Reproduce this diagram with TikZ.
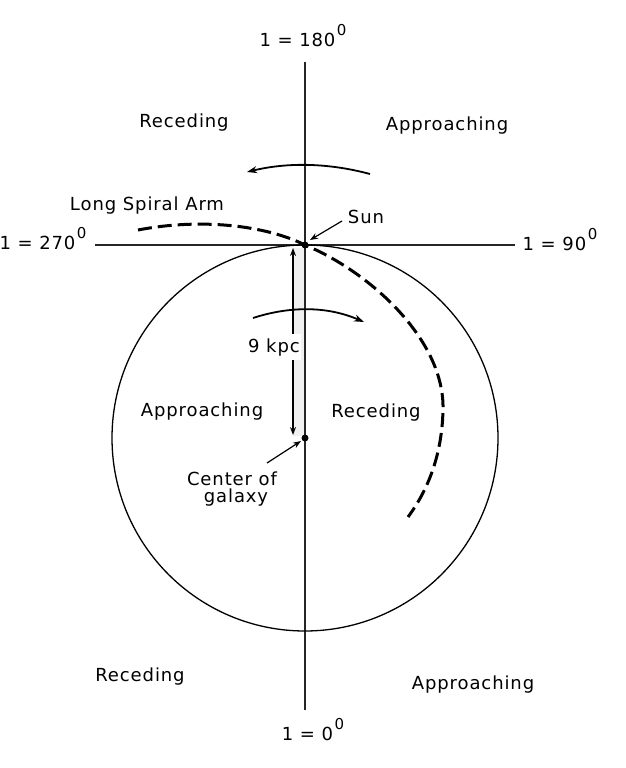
\documentclass[tikz,border=0pt]{standalone}
\usepackage{fontspec}
\setmainfont{DejaVu Sans}[LetterSpace=5]
\usetikzlibrary{arrows.meta}
\newcommand\degsup{\kern1.5pt\raisebox{11pt}{\fontsize{15}{15}\selectfont 0}}
\begin{document}
\begin{tikzpicture}[x=1pt,y=-1pt,
  lbl/.style={font=\fontsize{18}{20}\selectfont, inner sep=0pt, anchor=base},
  axis/.style={line width=1.8pt, black!85},
  orbit/.style={line width=1.3pt},
  arm/.style={line width=3pt, dash pattern=on 14pt off 6pt},
  motion/.style={line width=1.8pt, -{Stealth[length=10pt,width=7pt]}},
  pointer/.style={line width=1.2pt, -{Stealth[length=8pt,width=6pt]}},
  span/.style={line width=1.3pt, {Stealth[length=8pt,width=6pt]}-{Stealth[length=8pt,width=6pt]}}]
\useasboundingbox (0,0) rectangle (626,768);
\fill[white] (0,0) rectangle (626,768);

% coordinates
\coordinate (sun) at (305,245);
\coordinate (gc) at (305,438);
\coordinate (ntop) at (305,62);
\coordinate (nbot) at (305,710);
\coordinate (wend) at (95,245);
\coordinate (eend) at (515,245);

% faint band
\fill[black!6] (293,248) rectangle (305,436);

% axes
\draw[axis] (ntop) -- (nbot);
\draw[axis] (wend) -- (eend);

% orbit
\draw[orbit] (gc) circle[radius=193pt];

% spiral arm
\draw[arm] (138,230) .. controls (200,218) and (265,225) .. (sun)
  .. controls (370,272) and (445,340) .. (443,410)
  .. controls (442,455) and (428,490) .. (408,517);

% motion arrows
\coordinate (a1s) at (370,174);
\coordinate (a1e) at (247,172);
\draw[motion] (a1s) .. controls (329,163) and (288,162) .. (a1e);
\coordinate (a2s) at (253,318);
\coordinate (a2e) at (364,322);
\draw[motion] (a2s) .. controls (290,306) and (327,306) .. (a2e);

% dots
\fill (sun) circle[radius=3.5pt];
\fill (gc) circle[radius=3.5pt];

% 9 kpc span
\coordinate (kt) at (293,248);
\coordinate (kb) at (293,435);
\draw[span] (kt) -- (kb);
\node[lbl, fill=white, inner xsep=1pt, inner ysep=4pt] (kpc) at (274,352) {9 kpc};

% labels
\node[lbl] (l180) at (303,47) {1 = 180\degsup};
\node[lbl] (l270) at (43,249) {1 = 270\degsup};
\node[lbl] (l90) at (560,250) {1 = 90\degsup};
\node[lbl] (l0) at (313,740) {1 = 0\degsup};
\node[lbl] (rec1) at (184,127) {Receding};
\node[lbl] (app1) at (447,130) {Approaching};
\node[lbl] (armlbl) at (147,210) {Long Spiral Arm};
\node[lbl] (sunl) at (366,223) {Sun};
\node[lbl] (app2) at (202,416) {Approaching};
\node[lbl] (rec2) at (376,417) {Receding};
\node[lbl] (cg1) at (232,485) {Center of};
\node[lbl] (cg2) at (236,502) {galaxy};
\node[lbl] (rec3) at (140,681) {Receding};
\node[lbl] (app3) at (473,689) {Approaching};

% pointers
\coordinate (sunfrom) at (342,221);
\coordinate (sunto) at (310,240);
\draw[pointer] (sunfrom) -- (sunto);
\coordinate (gcfrom) at (267,463);
\coordinate (gcto) at (301,441);
\draw[pointer] (gcfrom) -- (gcto);
\end{tikzpicture}
\end{document}
